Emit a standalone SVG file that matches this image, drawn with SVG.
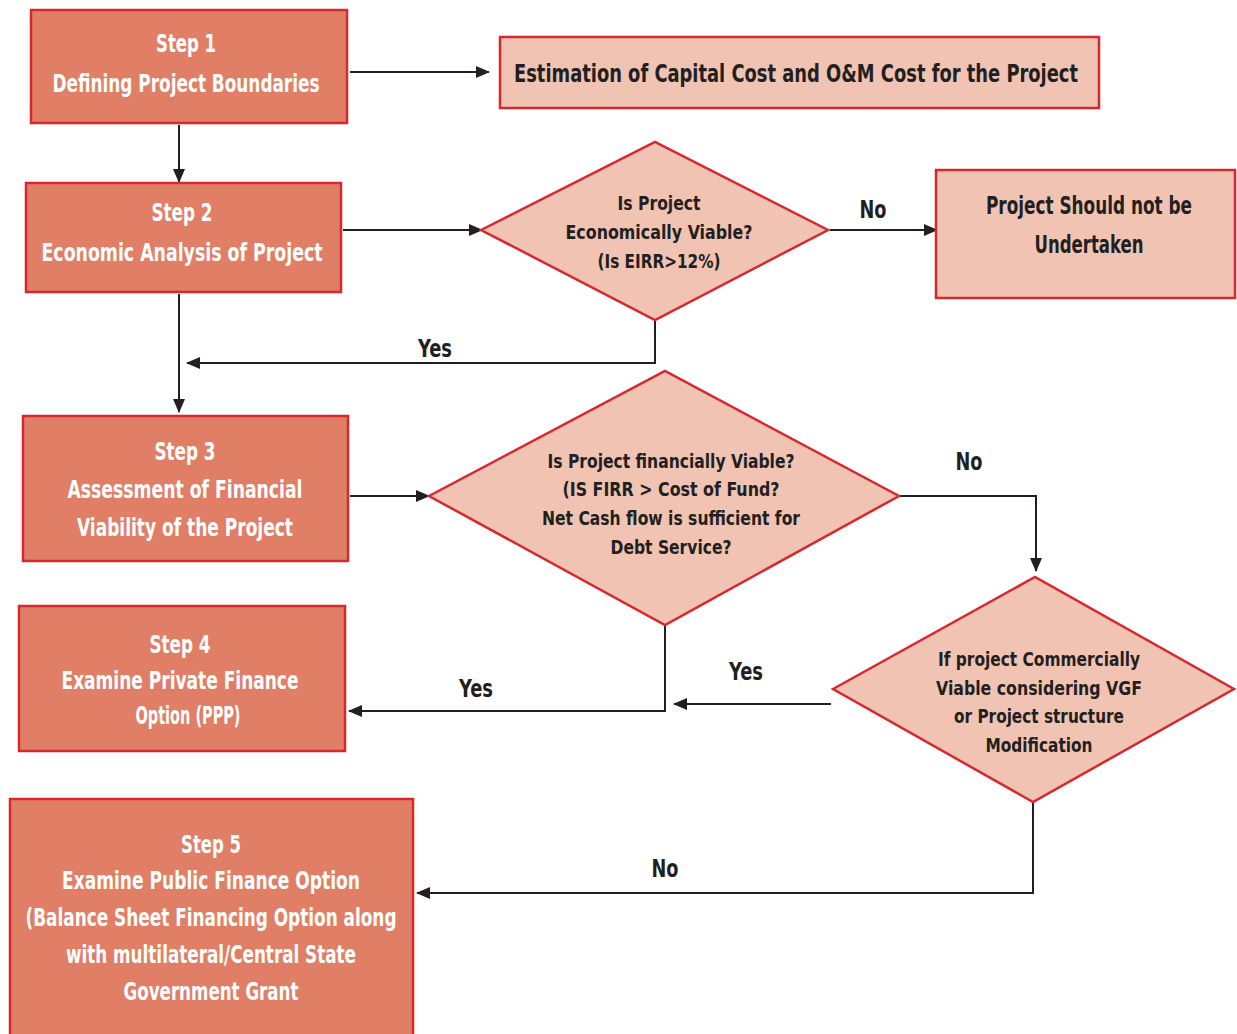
<svg xmlns="http://www.w3.org/2000/svg" width="1237" height="1034" viewBox="0 0 1237 1034">
  <defs>
    <marker id="arrow" markerUnits="userSpaceOnUse" markerWidth="14" markerHeight="12" refX="13" refY="6" orient="auto">
      <path d="M0,0 L14,6 L0,12 Z" fill="#231f20"/>
    </marker>
    <style>
      .step { fill: #e07f66; stroke: #d7282f; stroke-width: 2.5; }
      .light { fill: #f0c3b3; stroke: #d7282f; stroke-width: 2.5; }
      .t { font-family: "Liberation Sans Narrow", "DejaVu Sans Condensed", "Liberation Sans", sans-serif; font-weight: bold; text-anchor: middle; }
      .w { fill: #ffffff; font-size: 24px; }
      .d { fill: #231f20; font-size: 24px; }
      .q { fill: #231f20; font-size: 20px; }
      .lbl { fill: #231f20; font-size: 24px; }
      .conn { fill: none; stroke: #231f20; stroke-width: 2; marker-end: url(#arrow); }
    </style>
  </defs>
  <rect width="1237" height="1034" fill="#ffffff"/>

  <!-- connectors -->
  <g id="connectors">
    <path class="conn" d="M350,72 H489"/>
    <path class="conn" d="M179,125 V182"/>
    <path class="conn" d="M343,230 H482"/>
    <path class="conn" d="M830,230 H937"/>
    <path class="conn" d="M655,320 V363 H187"/>
    <path class="conn" d="M179,294 V412"/>
    <path class="conn" d="M350,496 H429"/>
    <path class="conn" d="M899,496 H1036 V571"/>
    <path class="conn" d="M831,704 H674"/>
    <path class="conn" d="M665,625 V711 H349"/>
    <path class="conn" d="M1033,802 V893 H417"/>
    <text class="t lbl" x="873" y="218" textLength="27" lengthAdjust="spacingAndGlyphs">No</text>
    <text class="t lbl" x="435" y="357" textLength="34" lengthAdjust="spacingAndGlyphs">Yes</text>
    <text class="t lbl" x="969" y="470" textLength="27" lengthAdjust="spacingAndGlyphs">No</text>
    <text class="t lbl" x="746" y="680" textLength="34" lengthAdjust="spacingAndGlyphs">Yes</text>
    <text class="t lbl" x="476" y="697" textLength="34" lengthAdjust="spacingAndGlyphs">Yes</text>
    <text class="t lbl" x="665" y="877" textLength="27" lengthAdjust="spacingAndGlyphs">No</text>
  </g>

  <!-- Step 1 -->
  <g id="step1">
    <rect class="step" x="31" y="10" width="316" height="113"/>
    <text class="t w" x="186" y="52" textLength="60" lengthAdjust="spacingAndGlyphs">Step 1</text>
    <text class="t w" x="186" y="92" textLength="267" lengthAdjust="spacingAndGlyphs">Defining Project Boundaries</text>
  </g>

  <!-- Cost estimation -->
  <g id="cost-estimation">
    <rect class="light" x="500" y="37" width="599" height="71"/>
    <text class="t d" x="796" y="82" textLength="564" lengthAdjust="spacingAndGlyphs">Estimation of Capital Cost and O&amp;M Cost for the Project</text>
  </g>

  <!-- Step 2 -->
  <g id="step2">
    <rect class="step" x="26" y="183" width="315" height="109"/>
    <text class="t w" x="182" y="221" textLength="61" lengthAdjust="spacingAndGlyphs">Step 2</text>
    <text class="t w" x="182" y="261" textLength="281" lengthAdjust="spacingAndGlyphs">Economic Analysis of Project</text>
  </g>

  <!-- Economic viability decision -->
  <g id="decision-economic">
    <polygon class="light" points="481,230 655,142 828,230 655,320"/>
    <text class="t q" x="659" y="210" textLength="83" lengthAdjust="spacingAndGlyphs">Is Project</text>
    <text class="t q" x="659" y="239" textLength="187" lengthAdjust="spacingAndGlyphs">Economically Viable?</text>
    <text class="t q" x="659" y="268" textLength="123" lengthAdjust="spacingAndGlyphs">(Is EIRR&gt;12%)</text>
  </g>

  <!-- Not undertaken -->
  <g id="not-undertaken">
    <rect class="light" x="936" y="170" width="299" height="128"/>
    <text class="t d" x="1089" y="214" textLength="206" lengthAdjust="spacingAndGlyphs">Project Should not be</text>
    <text class="t d" x="1089" y="253" textLength="109" lengthAdjust="spacingAndGlyphs">Undertaken</text>
  </g>

  <!-- Step 3 -->
  <g id="step3">
    <rect class="step" x="23" y="416" width="325" height="145"/>
    <text class="t w" x="185" y="460" textLength="61" lengthAdjust="spacingAndGlyphs">Step 3</text>
    <text class="t w" x="185" y="498" textLength="235" lengthAdjust="spacingAndGlyphs">Assessment of Financial</text>
    <text class="t w" x="185" y="536" textLength="216" lengthAdjust="spacingAndGlyphs">Viability of the Project</text>
  </g>

  <!-- Financial viability decision -->
  <g id="decision-financial">
    <polygon class="light" points="429,496 665,371 899,496 665,625"/>
    <text class="t q" x="671" y="468" textLength="247" lengthAdjust="spacingAndGlyphs">Is Project financially Viable?</text>
    <text class="t q" x="671" y="496" textLength="217" lengthAdjust="spacingAndGlyphs">(IS FIRR &gt; Cost of Fund?</text>
    <text class="t q" x="671" y="525" textLength="258" lengthAdjust="spacingAndGlyphs">Net Cash flow is sufficient for</text>
    <text class="t q" x="671" y="554" textLength="121" lengthAdjust="spacingAndGlyphs">Debt Service?</text>
  </g>

  <!-- Commercial viability decision -->
  <g id="decision-commercial">
    <polygon class="light" points="833,689 1035,577 1234,689 1033,802"/>
    <text class="t q" x="1039" y="666" textLength="202" lengthAdjust="spacingAndGlyphs">If project Commercially</text>
    <text class="t q" x="1039" y="695" textLength="206" lengthAdjust="spacingAndGlyphs">Viable considering VGF</text>
    <text class="t q" x="1039" y="723" textLength="170" lengthAdjust="spacingAndGlyphs">or Project structure</text>
    <text class="t q" x="1039" y="752" textLength="107" lengthAdjust="spacingAndGlyphs">Modification</text>
  </g>

  <!-- Step 4 -->
  <g id="step4">
    <rect class="step" x="19" y="606" width="326" height="145"/>
    <text class="t w" x="180" y="653" textLength="61" lengthAdjust="spacingAndGlyphs">Step 4</text>
    <text class="t w" x="180" y="689" textLength="237" lengthAdjust="spacingAndGlyphs">Examine Private Finance</text>
    <text class="t w" x="188" y="724" textLength="105" lengthAdjust="spacingAndGlyphs">Option (PPP)</text>
  </g>

  <!-- Step 5 -->
  <g id="step5">
    <rect class="step" x="10" y="799" width="403" height="245"/>
    <text class="t w" x="211" y="853" textLength="60" lengthAdjust="spacingAndGlyphs">Step 5</text>
    <text class="t w" x="211" y="889" textLength="298" lengthAdjust="spacingAndGlyphs">Examine Public Finance Option</text>
    <text class="t w" x="211" y="926" textLength="371" lengthAdjust="spacingAndGlyphs">(Balance Sheet Financing Option along</text>
    <text class="t w" x="211" y="963" textLength="290" lengthAdjust="spacingAndGlyphs">with multilateral/Central State</text>
    <text class="t w" x="211" y="1000" textLength="175" lengthAdjust="spacingAndGlyphs">Government Grant</text>
  </g>
</svg>
